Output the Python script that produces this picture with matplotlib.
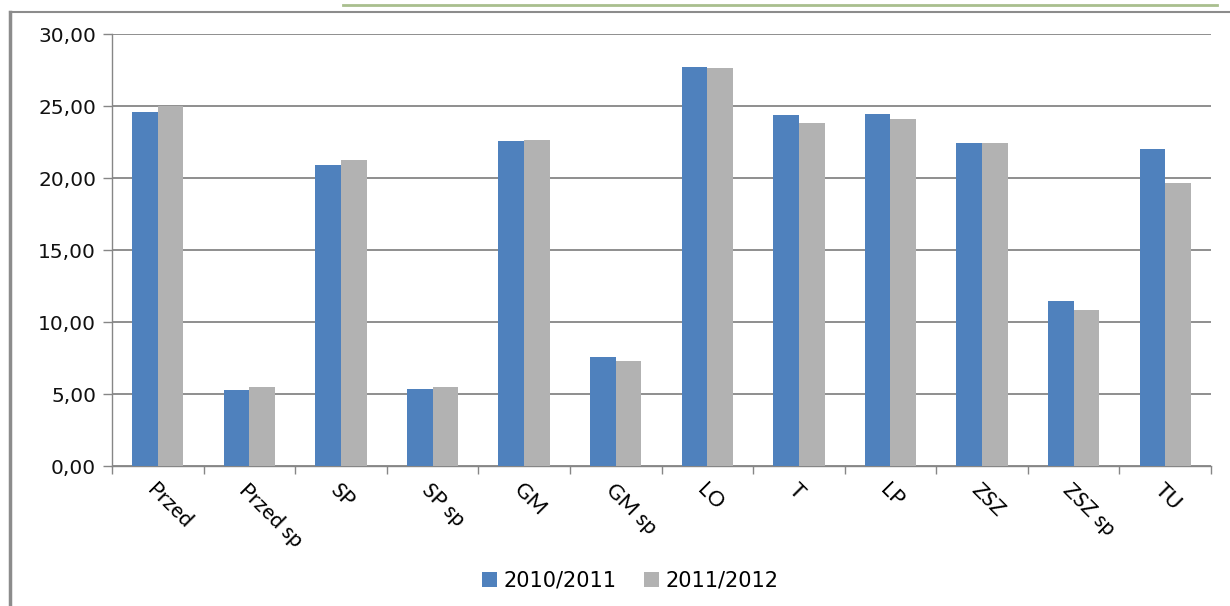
import numpy as np
import matplotlib
matplotlib.use("Agg")
import matplotlib.pyplot as plt
from matplotlib.lines import Line2D
from matplotlib.ticker import FuncFormatter, MultipleLocator

# categories and values
categories = ["Przed", "Przed sp", "SP", "SP sp", "GM", "GM sp",
              "LO", "T", "LP", "ZSZ", "ZSZ sp", "TU"]
series_names = ["2010/2011", "2011/2012"]
vals_2010 = [24.58, 5.30, 20.92, 5.37, 22.59, 7.59,
             27.73, 24.40, 24.47, 22.45, 11.48, 22.03]
vals_2011 = [24.97, 5.51, 21.27, 5.51, 22.66, 7.31,
             27.66, 23.84, 24.12, 22.45, 10.85, 19.67]

blue = "#4F81BD"
grey = "#B2B2B2"
axis_col = "#868686"

fig = plt.figure(figsize=(12.3, 6.06), dpi=100)
W, H = 1230, 606
ax = fig.add_axes([112 / W, 1 - 466 / H, (1211 - 112) / W, (466 - 34) / H])

x = np.arange(len(categories))
w = 0.28
b1 = ax.bar(x - w / 2, vals_2010, w, color=blue, label=series_names[0], zorder=3)
b2 = ax.bar(x + w / 2, vals_2011, w, color=grey, label=series_names[1], zorder=3)

ax.set_xlim(-0.5, len(categories) - 0.5)
ax.set_ylim(0, 30)
ax.yaxis.set_major_locator(MultipleLocator(5))
ax.yaxis.set_major_formatter(FuncFormatter(lambda v, p: ("%.2f" % v).replace(".", ",")))
ax.grid(axis="y", color=axis_col, lw=1.3, zorder=0)

for s in ["top", "right"]:
    ax.spines[s].set_visible(False)
for s in ["left", "bottom"]:
    ax.spines[s].set_color(axis_col)
    ax.spines[s].set_linewidth(1.0)

ax.tick_params(axis="y", direction="out", length=6.5, color=axis_col, width=1,
               labelsize=14.5, pad=5, labelcolor="#111111")
ax.set_xticks(x)
ax.set_xticks(np.arange(-0.5, len(categories), 1), minor=True)
ax.tick_params(axis="x", which="major", length=0, pad=10)
ax.tick_params(axis="x", which="minor", direction="out", length=6, color=axis_col, width=1)
ax.set_xticklabels(categories, rotation=-45, ha="left", va="top",
                   rotation_mode="anchor", fontsize=15.5, family=["Lato", "DejaVu Sans"])
for lab in ax.get_yticklabels():
    lab.set_family("DejaVu Sans")

fig.legend(handles=[b1, b2], loc="center", bbox_to_anchor=(630 / W, 1 - 581 / H),
           ncol=2, frameon=False, fontsize=15, handlelength=0.75, handleheight=0.75,
           handletextpad=0.3, columnspacing=1.3)

# outer frame pieces from the screenshot
fig.add_artist(Line2D([10 / W, 10 / W], [0, 1 - 12 / H], color="#8C8C8C", lw=2.5))
fig.add_artist(Line2D([10 / W, 1], [1 - 12 / H, 1 - 12 / H], color="#8C8C8C", lw=1.5))
fig.add_artist(Line2D([343 / W, 1217 / W], [1 - 5 / H, 1 - 5 / H], color="#A9BF8E", lw=2))

fig.savefig("out.png", dpi=100)
